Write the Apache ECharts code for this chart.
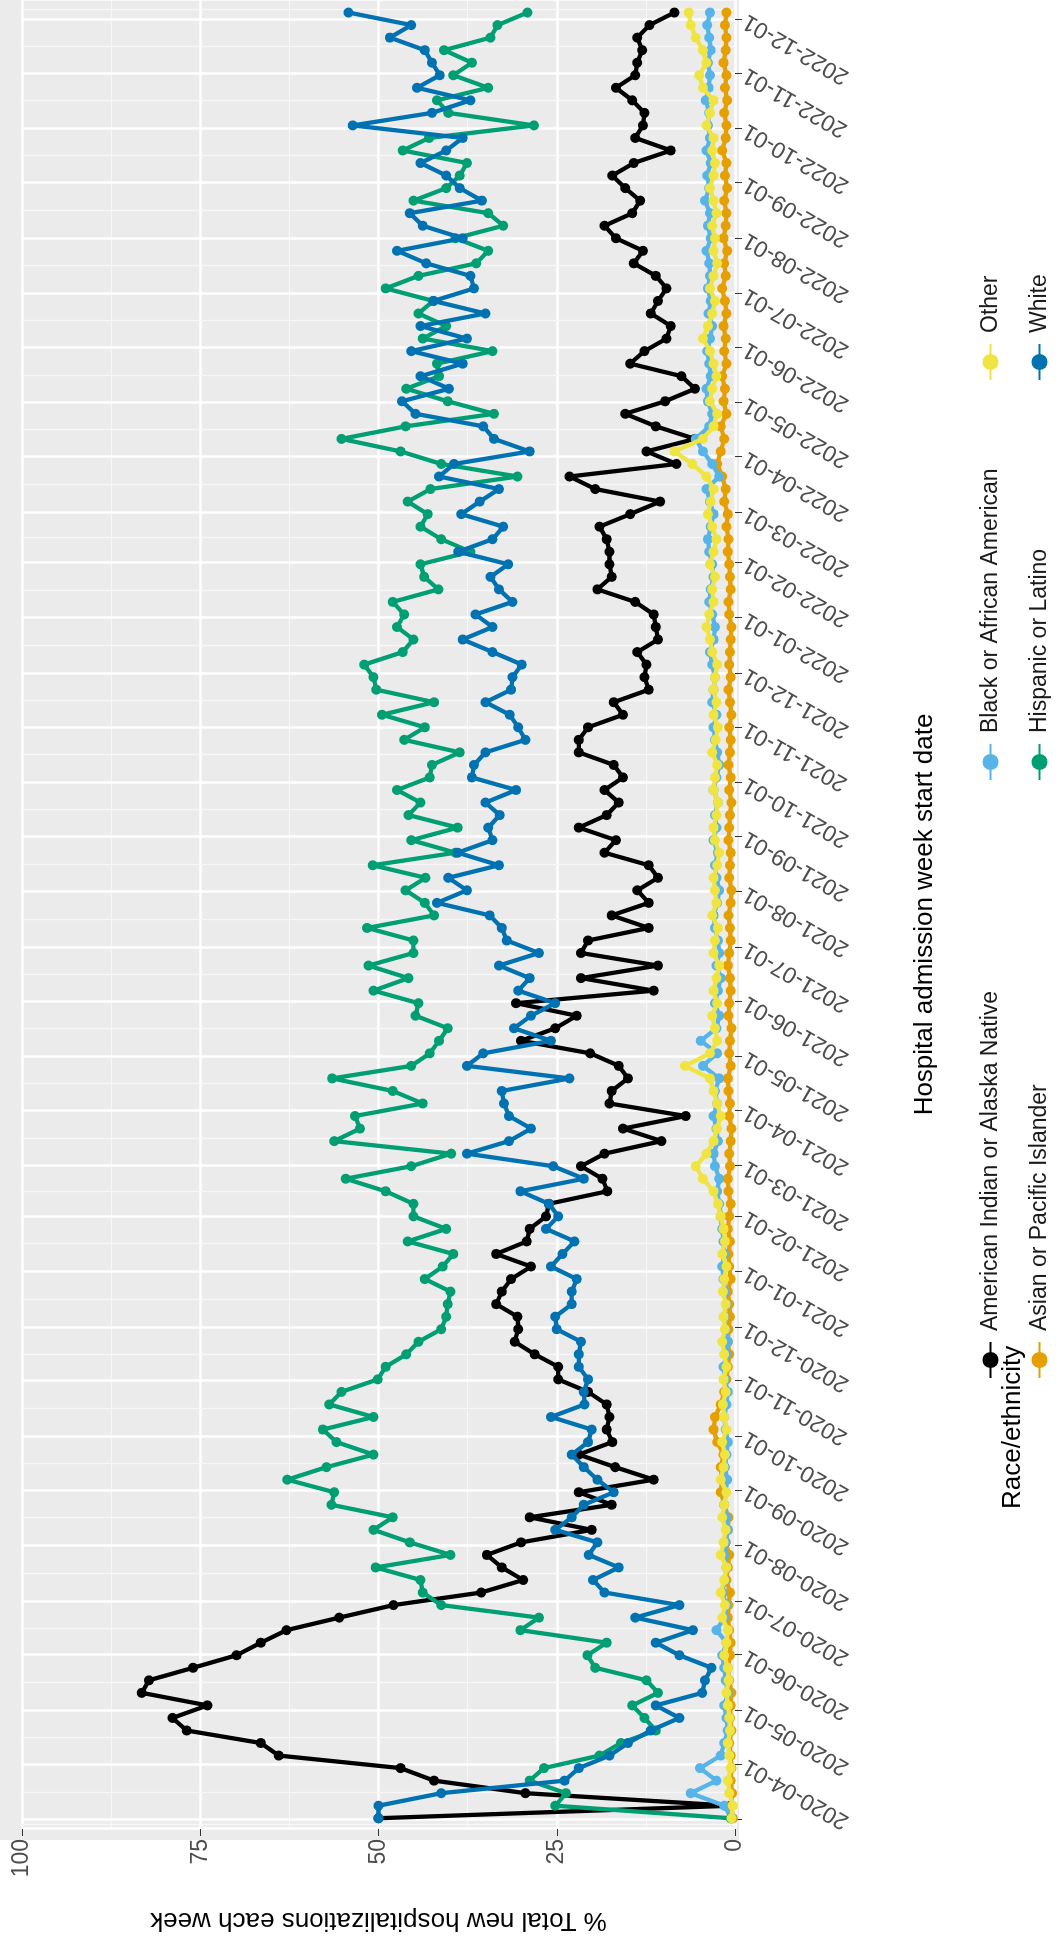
<!DOCTYPE html>
<html>
<head>
<meta charset="utf-8">
<script src="https://cdn.jsdelivr.net/npm/echarts@6/dist/echarts.min.js"></script>
<style>
html,body{margin:0;padding:0;background:#fff;overflow:hidden;}
#wrap{position:absolute;left:0;top:0;width:1061px;height:1941px;overflow:hidden;}
#main{position:absolute;left:0;top:0;width:1941px;height:1061px;transform-origin:0 0;transform:translate(0,1941px) rotate(-90deg);}
</style>
</head>
<body>
<div id="wrap"><div id="main"></div></div>
<script>
// weekly data, first week starting 2020-03-02
var startDate = '2020-03-02';
var firstLabel = '2020-04-01';
var yTicks = [0, 25, 50, 75, 100];

var aian = [50,0.6,29.4,42.2,46.9,64,66.5,76.9,78.9,74,83.2,82.2,76,69.9,66.5,62.9,55.5,47.9,35.6,29.7,32.7,34.8,30,20.1,28.8,17.3,21.9,11.4,16.8,21.9,17.2,
    18,17.6,18,20.6,24.8,24.8,28.1,30.9,30.4,30.5,33.5,32.7,31.4,28.6,33.5,29.2,28.8,26.5,26.1,17.9,18.6,21.6,18.3,10.3,15.7,6.9,17.6,17.3,
    15,16.3,20.3,30,25.2,22.2,30.7,11.4,21.6,10.8,21.6,20.6,12.1,17.3,12.1,13.7,10.8,12.1,18.3,16.7,21.9,18,16.3,18.3,15.7,17,21.9,21.9,20.6,
    15.7,17,12.1,12.7,12.4,13.7,10.8,11.1,11.4,14,19.3,17.3,17.6,17.6,18,19,14.7,10.5,19.6,23.2,8.2,12.4,5.6,11.1,15.4,9.8,5.6,7.5,
    14.7,12.7,9.6,9,11.8,10.8,9.6,11.1,14.2,12.9,16.7,18.3,14.4,13.3,15.4,17.2,14.2,9,14,12.9,12.7,14.4,16.7,14,13.7,13,13.7,12,8.5];
var asianPI = [0.3,0.5,0.4,0.6,0.5,0.6,0.8,0.5,0.7,0.6,0.5,0.8,1,0.7,0.6,0.8,1,0.9,0.7,1.2,
    1,0.8,1.3,1,0.9,1.5,2,1.8,2,1.6,2.5,3,2.8,2,1.5,1.2,1,0.8,1,0.9,
    0.7,0.8,1,0.6,0.8,0.9,0.7,1,0.8,0.6,0.9,1,0.7,0.8,0.6,0.5,0.8,0.7,0.9,1,
    0.6,0.8,0.7,0.5,0.9,0.8,0.6,0.7,1,0.8,0.6,0.7,0.9,0.6,0.5,0.8,0.7,0.6,0.9,0.8,
    0.7,0.5,0.8,0.6,0.9,0.7,0.6,0.8,0.5,0.7,0.9,0.6,0.8,0.7,0.6,0.5,0.8,0.9,0.6,0.7,
    0.8,1,0.9,1.2,1,1.5,1.3,1.8,2.5,2,1.5,2,1.2,1.6,1.4,1.8,1.2,1.5,1.3,1.6,
    1.2,1.4,1.8,1.3,1.5,1.1,1.6,1.3,1.2,1.5,1.1,1.4,1.2,1.8,1.3,1.2,1.5,1.1,1.4,1.2,
    1.6,1.3,1.2,1.4,1.2];
var blackAA = [0.5,1.5,6.2,2.6,4.9,2,1.5,1,1.2,1.5,1,1.3,1.5,1.8,1.2,2.6,1.5,1.2,1.8,1.4,
    1.2,1.5,1.3,1,1.2,1.5,1.3,1.1,1.4,1.2,1,1.3,1.5,1.2,1,1.4,1.6,1.2,1,1.3,
    1.5,1.2,1.4,1.6,1.8,1.5,1.6,1.8,2,2.2,2.5,2.2,2.8,3,2.4,2.6,3,2.5,2.8,2.2,
    4.5,2.5,4.8,2.6,2.2,2.8,2.4,2,2.6,2.2,2.4,2.8,3,2.5,2.2,2.6,2.8,2.4,3,2.6,
    2.8,2.4,3,2.6,2.2,2.5,2.8,3,2.6,3.2,3,2.8,3.2,3.5,3,2.8,3.2,3.6,3.4,3,
    3.2,3.6,3.8,3.4,3,3.5,4,2.2,3.2,4.5,5.5,3.6,3.2,3.8,4,3.4,3.6,3.9,3.5,3.2,
    3.7,3.4,3.8,3.5,3.6,4,3.4,3.8,3.5,4.2,3.6,3.9,3.4,4,3.5,3.8,3.6,4.1,3.7,3.5,
    3.8,3.4,3.6,3.9,3.5];
var hispanic = [0.6,25.2,23.7,28.8,26.8,19,16,11.1,12.7,14.4,10.8,12.4,19.6,20.7,18,30.1,27.5,41.2,43.8,44.1,50.4,39.9,45.6,50.7,48,56.6,56.2,62.8,57.3,50.7,55.9,
    57.8,50.7,56.9,55.2,50.1,49,46.1,44.4,41.2,40.5,40.3,39.9,43.5,41,39.5,45.9,40.5,45.1,45.1,49,54.6,45.4,39.8,56.2,52.6,53.3,43.8,48,
    56.5,45.4,42.8,41.5,40.3,44.8,44.4,50.7,45.8,51.4,45.1,45.1,51.6,42.2,43.5,46.2,43.4,50.8,39.2,45.4,38.9,45.8,44.1,47.4,42.8,42.5,38.6,46.4,43.5,
    49.5,42.2,50.3,50.7,52,46.6,45.1,47.4,46.4,48,41.6,43.6,44.1,37.1,41.2,44.1,43.1,45.9,42.7,30.5,41.2,46.9,55.2,46.2,33.8,40.3,46.1,41.5,
    41.8,34,43.8,40.5,44.4,42.3,49,44.4,36.3,34.6,39.2,32.5,34.6,45.1,40.5,38.6,37.6,46.6,42.9,28.2,40.2,41.8,34.6,39.5,36.9,40.8,34.3,33.3,29.1];
var other = [0.5,0.3,0.8,1,0.6,0.8,1,0.7,0.8,1,1.2,0.9,1,1.5,1.2,1,1.8,1.4,2,1.5,
    1.2,2,1.6,1.3,1.8,1.5,1.2,2,1.6,1.4,1.8,1.2,1.5,1.7,1.3,1.6,1.2,1.5,1.8,1.4,
    1.6,1.3,1.7,1.5,1.2,1.8,1.4,1.6,2,2.4,3,4.5,5.5,4,3,2.5,2,2.5,3,3.5,
    7,3.5,2.5,2.8,3.2,2.5,3,2.6,2.2,3,2.8,2.4,3.2,2.6,2.8,3,2.5,2.2,2.8,3,
    2.6,2.4,3,2.8,2.5,3.2,2.7,2.4,3,2.6,3,2.8,2.5,3.2,3.5,4,3.6,3,3.2,2.8,
    3.5,3,2.6,3.2,3.8,3.4,3,4,6,8.5,4.5,3,2.5,3.5,3.2,2.6,3,3.5,4.5,3.8,
    3.2,2.8,3.5,3,2.5,3,2.8,3.2,2.6,3,3.5,3,2.8,3.2,3,4,3.5,3,4.5,5,
    4,4.5,5.5,6.2,6.5];
var white = [50,50,41.2,23.9,21.9,17.6,15,11.8,7.8,11.1,4.6,4.2,3.3,7.8,11.1,5.9,14,7.8,18.3,19.9,16.3,20.5,19.3,25.2,22.9,21.2,17,19.3,21.2,22.9,20.6,
    20.1,25.8,21.1,21.2,20.6,21.9,21.9,21.6,25,25.2,22.9,22.9,22.2,25.8,24.2,22.5,26.5,24.8,26.1,30.1,21.2,25.5,37.6,31.7,28.6,31.7,32.4,32.7,
    23.2,37.6,35.3,25.8,31,28.6,25.2,30.4,28.8,33.1,27.5,32,32.7,34.4,41.8,37.6,40.2,33.1,38.9,34,34.6,33,35,30.7,36.9,36.6,35,29.4,30.4,
    31.6,35,31.4,31.2,29.9,34,38.2,34,36.4,31.2,33.1,34.3,31.8,38.8,34,32.5,38.4,35.8,33.1,41.5,39.4,28.8,33.8,35.3,44.8,46.7,40.1,44.1,
    38.2,45.4,37.6,44.1,35,42.3,36.6,37.1,43.3,47.4,38.2,43.8,45.6,35.5,38.6,40.5,44.1,40.5,38.2,53.6,42.5,37.1,44.6,41.4,42.5,43.5,48.4,45.4,54.2];

var seriesNames = ['American Indian or Alaska Native','Asian or Pacific Islander','Black or African American','Hispanic or Latino','Other','White'];
var seriesValues = [aian, asianPI, blackAA, hispanic, other, white];
var colors = ['#000000','#E69F00','#56B4E9','#009E73','#F0E442','#0072B2'];

var DAY = 86400000;
var t0 = Date.parse(startDate + 'T00:00:00Z');
var tFirstLabel = Date.parse(firstLabel + 'T00:00:00Z');
var nWeeks = aian.length;
var dates = [];
for (var i = 0; i < nWeeks; i++) dates.push(t0 + i * 7 * DAY);

var myChart = echarts.init(document.getElementById('main'));
var series = seriesValues.map(function (vals, k) {
    return {
        name: seriesNames[k],
        type: 'line',
        data: vals.slice(0, nWeeks).map(function (v, i) { return [dates[i], v]; }),
        symbol: 'circle',
        symbolSize: 10,
        showSymbol: true,
        lineStyle: {width: 4.3, color: colors[k]},
        itemStyle: {color: colors[k]},
        z: 3 + k,
        animation: false
    };
});

// legend positions: two rows, three columns
var legendPos = [[557, 974], [557, 1023], [1155, 974], [1155, 1023], [1555, 974], [1555, 1023]];
var legends = seriesNames.map(function (n, k) {
    return {
        data: [n], left: legendPos[k][0], top: legendPos[k][1],
        itemWidth: 36, itemHeight: 20, itemGap: 6,
        textStyle: {fontSize: 23, color: '#1a1a1a', fontFamily: 'Liberation Sans', padding: [0, 0, 0, 6]}
    };
});

function pad(n) { return n < 10 ? '0' + n : '' + n; }

var option = {
    color: colors,
    animation: false,
    textStyle: {fontFamily: 'Liberation Sans'},
    grid: {left: 101, right: 0, top: 22, bottom: 326},
    graphic: [{
        type: 'rect', z: -10, silent: true,
        shape: {x: 101, y: 0, width: 1840, height: 739},
        style: {fill: '#EBEBEB'}
    }, {
        type: 'text', left: 432, top: 1000,
        style: {text: 'Race/ethnicity', fontSize: 26, fill: '#000', fontFamily: 'Liberation Sans'}
    }],
    legend: legends,
    xAxis: {
        type: 'time',
        min: Date.parse('2020-02-25T00:00:00Z'),
        max: Date.parse('2022-12-12T00:00:00Z'),
        minInterval: 28 * DAY, maxInterval: 31 * DAY,
        name: 'Hospital admission week start date',
        nameLocation: 'middle', nameGap: 177,
        nameTextStyle: {fontSize: 26, color: '#000'},
        axisLine: {show: false},
        axisTick: {show: true, length: 7, lineStyle: {color: '#333'}},
        axisLabel: {
            rotate: 60, fontSize: 23, color: '#4d4d4d', margin: 10,
            showMinLabel: false, showMaxLabel: false,
            formatter: function (val) {
                if (val < tFirstLabel - DAY) return '';
                var d = new Date(val);
                return d.getUTCFullYear() + '-' + pad(d.getUTCMonth() + 1) + '-' + pad(d.getUTCDate());
            }
        },
        splitLine: {show: true, lineStyle: {color: '#fff', width: 2.5}},
        minorTick: {show: false, splitNumber: 2},
        minorSplitLine: {show: true, lineStyle: {color: '#f7f7f7', width: 1.2}}
    },
    yAxis: {
        type: 'value', min: 0, max: 100, interval: 25,
        name: '% Total new hospitalizations each week',
        nameLocation: 'middle', nameGap: 78,
        nameTextStyle: {fontSize: 26, color: '#000'},
        axisLine: {show: false},
        axisTick: {show: true, length: 7, lineStyle: {color: '#333'}},
        axisLabel: {fontSize: 23, color: '#4d4d4d', margin: 10},
        splitLine: {lineStyle: {color: '#fff', width: 2.5}},
        minorTick: {show: false, splitNumber: 2},
        minorSplitLine: {show: true, lineStyle: {color: '#f7f7f7', width: 1.2}}
    },
    series: series
};
myChart.setOption(option);
</script>
</body>
</html>
